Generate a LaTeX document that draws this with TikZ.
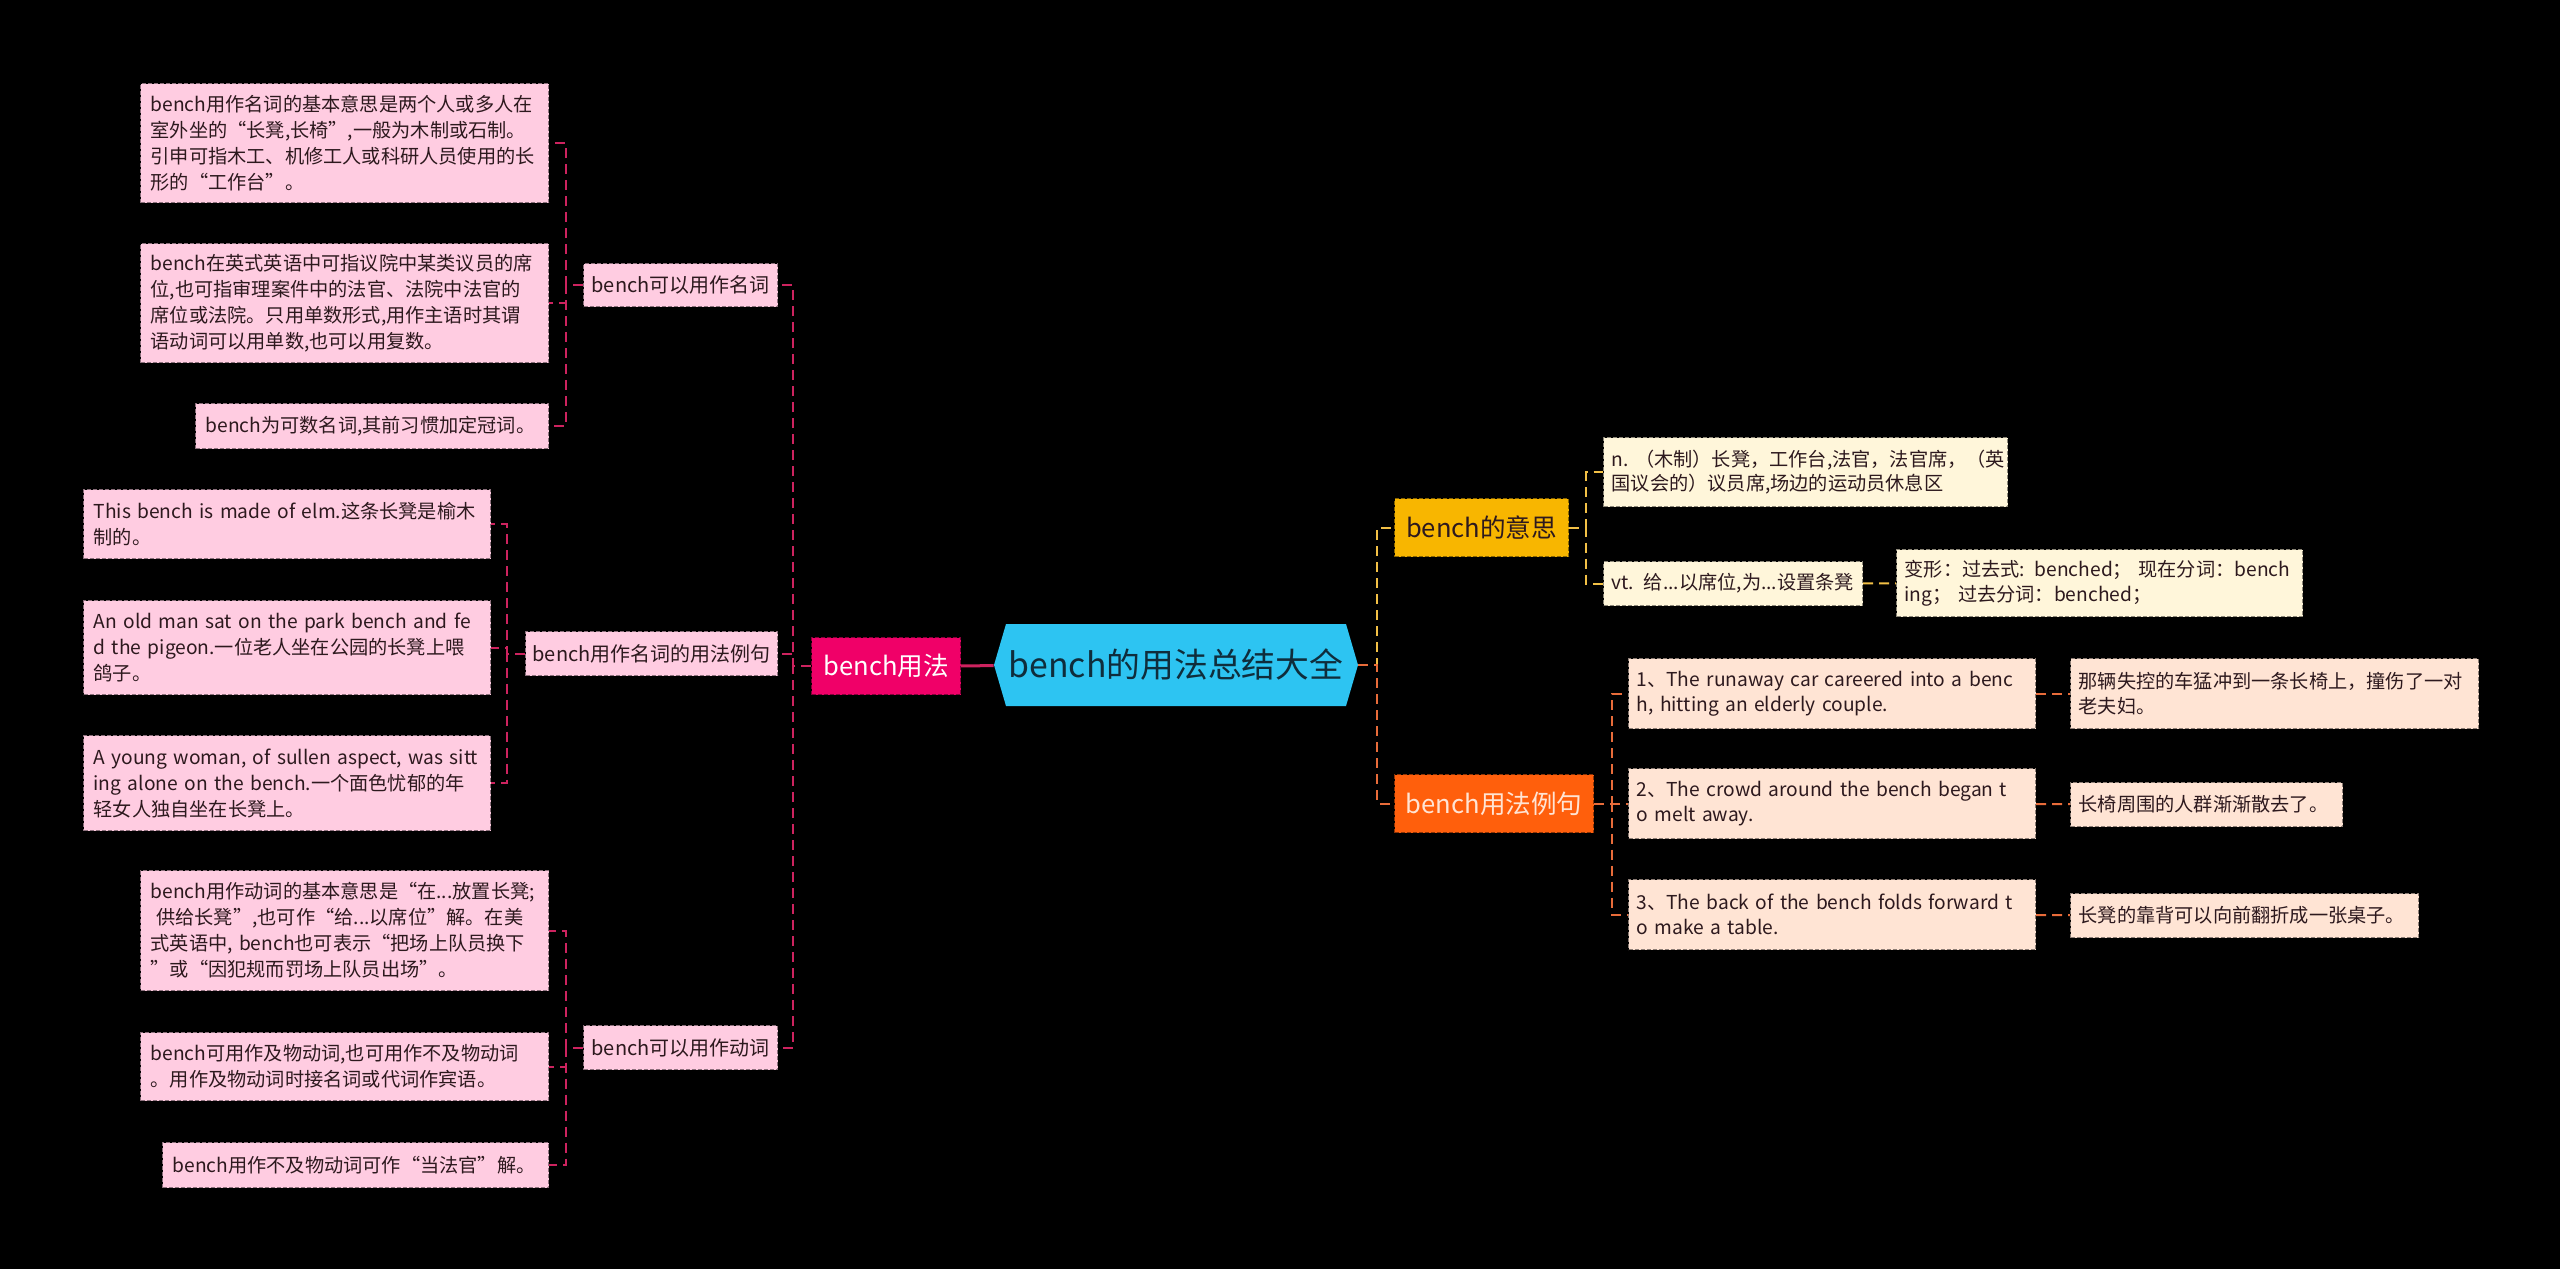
\documentclass[tikz,border=0pt]{standalone}
\usepackage{fontspec}
\setmainfont{Noto Sans CJK SC}
\usetikzlibrary{positioning}
\definecolor{pinkleaf}{RGB}{255,204,225}
\definecolor{pinkline}{RGB}{205,35,95}
\definecolor{usagered}{RGB}{240,0,104}
\definecolor{rootblue}{RGB}{45,196,242}
\definecolor{rootink}{RGB}{15,45,60}
\definecolor{gold}{RGB}{248,182,0}
\definecolor{goldline}{RGB}{242,192,70}
\definecolor{cream}{RGB}{255,246,218}
\definecolor{orange}{RGB}{255,95,12}
\definecolor{orangeline}{RGB}{232,108,58}
\definecolor{peach}{RGB}{255,228,212}
\definecolor{inkdark}{RGB}{45,25,30}

\begin{document}
\begin{tikzpicture}[x=0.5pt,y=-0.5pt,
  box/.style={draw=#1!55!black, fill=#1, dash pattern=on 2pt off 1pt,
              line width=0.6pt, anchor=north west},
  leaf/.style={box=#1, align=left, inner xsep=5pt, inner ysep=1pt, text=inkdark,
               font=\fontsize{9.6}{13}\selectfont},
  rleaf/.style={box=#1, align=left, inner xsep=4pt, inner ysep=1pt, text=inkdark,
                font=\fontsize{9.6}{12.3}\selectfont},
  topic/.style={box=pinkleaf, inner sep=0pt, align=center, text=inkdark,
                font=\fontsize{10}{12}\selectfont},
  branch/.style={box=#1, inner sep=0pt, align=center, font=\fontsize{12.8}{15}\selectfont},
  pinklink/.style={pinkline, line width=1pt, dash pattern=on 5pt off 3pt},
  goldlink/.style={goldline, line width=1pt, dash pattern=on 5pt off 3pt},
  orangelink/.style={orangeline, line width=1pt, dash pattern=on 5pt off 3pt}
]
\fill[black] (0,0) rectangle (2560,1269);
\useasboundingbox (0,0) rectangle (2560,1269);

% centre
\fill[rootblue] (994,665) -- (1006,624) -- (1346,624) -- (1358,665)
  -- (1346,706) -- (1006,706) -- cycle;
\node[inner sep=0pt, minimum width=182pt, minimum height=41pt, text=rootink,
      font=\fontsize{16.9}{20}\selectfont] (root) at (1176,665) {bench的用法总结大全};

% left branch
\node[branch=usagered, text=white, minimum width=74.5pt, minimum height=28.5pt] (usage) at (811,637) {bench用法};

\node[topic, minimum width=97pt, minimum height=21.5pt] (noun) at (583,263) {bench可以用作名词};
\node[topic, minimum width=126pt, minimum height=22pt] (nounex) at (525,631) {bench用作名词的用法例句};
\node[topic, minimum width=97pt, minimum height=22pt] (verb) at (583,1025) {bench可以用作动词};

\node[leaf=pinkleaf, text width=194pt, minimum height=59.5pt] (n1) at (140,83)
  {bench用作名词的基本意思是两个人或多人在\\室外坐的“长凳,长椅”,一般为木制或石制。\\引申可指木工、机修工人或科研人员使用的长\\形的“工作台”。};
\node[leaf=pinkleaf, text width=194pt, minimum height=59.5pt] (n2) at (140,243)
  {bench在英式英语中可指议院中某类议员的席\\位,也可指审理案件中的法官、法院中法官的\\席位或法院。只用单数形式,用作主语时其谓\\语动词可以用单数,也可以用复数。};
\node[leaf=pinkleaf, text width=166.5pt, minimum height=22.5pt] (n3) at (195,403)
  {bench为可数名词,其前习惯加定冠词。};

\node[leaf=pinkleaf, text width=193.5pt, minimum height=34.5pt] (e1) at (83,489)
  {This bench is made of elm.这条长凳是榆木\\制的。};
\node[leaf=pinkleaf, text width=193.5pt, minimum height=47pt] (e2) at (83,600)
  {An old man sat on the park bench and fe\\d the pigeon.一位老人坐在公园的长凳上喂\\鸽子。};
\node[leaf=pinkleaf, text width=193.5pt, minimum height=47.5pt] (e3) at (83,735)
  {A young woman, of sullen aspect, was sitt\\ing alone on the bench.一个面色忧郁的年\\轻女人独自坐在长凳上。};

\node[leaf=pinkleaf, text width=194pt, minimum height=60pt] (v1) at (140,870)
  {bench用作动词的基本意思是“在...放置长凳;\\\hspace*{.3em}供给长凳”,也可作“给...以席位”解。在美\\式英语中,~bench也可表示“把场上队员换下\\”或“因犯规而罚场上队员出场”。};
\node[leaf=pinkleaf, text width=194pt, minimum height=34pt] (v2) at (140,1032)
  {bench可用作及物动词,也可用作不及物动词\\。用作及物动词时接名词或代词作宾语。};
\node[leaf=pinkleaf, text width=183pt, minimum height=22.5pt] (v3) at (162,1142)
  {bench用作不及物动词可作“当法官”解。};

\draw[pinkline, line width=1.5pt] (usage) -- (root);
\draw[pinklink] (usage.west) -- ++(-18,0) |- (noun);
\draw[pinklink] (usage.west) -- ++(-18,0) |- (nounex);
\draw[pinklink] (usage.west) -- ++(-18,0) |- (verb);
\draw[pinklink] (noun.west) -- ++(-17,0) |- (n1);
\draw[pinklink] (noun.west) -- ++(-17,0) |- (n2);
\draw[pinklink] (noun.west) -- ++(-17,0) |- (n3);
\draw[pinklink] (nounex.west) -- ++(-18,0) |- (e1);
\draw[pinklink] (nounex.west) -- ++(-18,0) |- (e2);
\draw[pinklink] (nounex.west) -- ++(-18,0) |- (e3);
\draw[pinklink] (verb.west) -- ++(-17,0) |- (v1);
\draw[pinklink] (verb.west) -- ++(-17,0) |- (v2);
\draw[pinklink] (verb.west) -- ++(-17,0) |- (v3);

% right branches
\node[branch=gold, text=inkdark, minimum width=87pt, minimum height=29pt] (mean) at (1394,498) {bench的意思};
\node[branch=orange, text=peach, minimum width=99.5pt, minimum height=29pt] (usageex) at (1394,774) {bench用法例句};

\node[rleaf=cream, text width=194pt, minimum height=34.5pt] (m1) at (1603,437)
  {n.~（木制）长凳，工作台,法官，法官席，（英\\国议会的）议员席,场边的运动员休息区};
\node[rleaf=cream, text width=121.5pt, minimum height=22pt] (m2) at (1603,561)
  {vt. 给...以席位,为...设置条凳};
\node[rleaf=cream, text width=195pt, minimum height=33.5pt] (m3) at (1896,549)
  {变形：过去式: benched；~现在分词：bench\\ing；~过去分词：benched；};

\node[rleaf=peach, text width=195.5pt, minimum height=35pt] (s1) at (1628,658)
  {1、The runaway car careered into a benc\\h, hitting an elderly couple.};
\node[rleaf=peach, text width=195.5pt, minimum height=35pt] (s2) at (1628,768)
  {2、The crowd around the bench began t\\o melt away.};
\node[rleaf=peach, text width=195.5pt, minimum height=35pt] (s3) at (1628,879)
  {3、The back of the bench folds forward t\\o make a table.};
\node[rleaf=peach, text width=196pt, minimum height=35pt] (c1) at (2070,658)
  {那辆失控的车猛冲到一条长椅上，撞伤了一对\\老夫妇。};
\node[rleaf=peach, text width=128pt, minimum height=22pt] (c2) at (2070,782)
  {长椅周围的人群渐渐散去了。};
\node[rleaf=peach, text width=166pt, minimum height=22pt] (c3) at (2070,893)
  {长凳的靠背可以向前翻折成一张桌子。};

\draw[goldlink] (root.east) -- ++(19,0) |- (mean);
\draw[orangelink] (root.east) -- ++(19,0) |- (usageex);
\draw[goldlink] (mean.east) -- ++(17,0) |- (m1);
\draw[goldlink] (mean.east) -- ++(17,0) |- (m2);
\draw[goldlink] (m2) -- (m3);
\draw[orangelink] (usageex.east) -- ++(18,0) |- (s1);
\draw[orangelink] (usageex.east) -- ++(18,0) |- (s2);
\draw[orangelink] (usageex.east) -- ++(18,0) |- (s3);
\draw[orangelink] (s1) -- (c1);
\draw[orangelink] (s2) -- (c2);
\draw[orangelink] (s3) -- (c3);
\end{tikzpicture}
\end{document}
